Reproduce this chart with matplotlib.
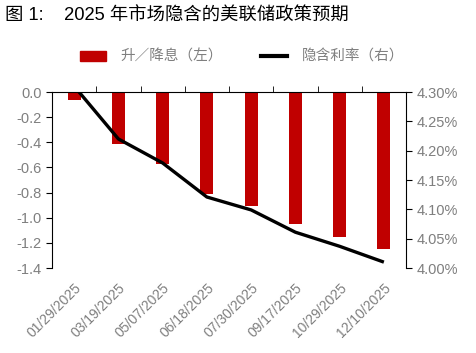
import numpy as np
import matplotlib
matplotlib.use('Agg')
import matplotlib.pyplot as plt
from matplotlib.patches import Patch
from matplotlib.lines import Line2D

plt.rcParams['font.family'] = ['Liberation Sans', 'Noto Sans CJK SC', 'DejaVu Sans']

dates = ['01/29/2025', '03/19/2025', '05/07/2025', '06/18/2025',
         '07/30/2025', '09/17/2025', '10/29/2025', '12/10/2025']
moves = [-0.06, -0.41, -0.57, -0.81, -0.91, -1.05, -1.15, -1.25]   # 升/降息 (left)
rate = [4.31, 4.22, 4.179, 4.121, 4.099, 4.061, 4.037, 4.01]      # 隐含利率 % (right)

grey = '#7f7f7f'
red = '#c00000'

fig = plt.figure(figsize=(4.76, 3.53), dpi=100)
ax = fig.add_axes([52/476, 1-268/353, 354/476, 176/353])
x = np.arange(len(dates))
ax.bar(x, moves, width=0.29, color=red, zorder=2)
ax.set_xlim(-0.5, len(dates)-0.5)
ax.set_ylim(-1.4, 0)
ax.set_yticks(np.arange(-1.4, 0.01, 0.2))
ax.set_yticklabels(['%.1f' % v if abs(v) > 1e-9 else '0.0' for v in np.arange(-1.4, 0.01, 0.2)])
ax.spines['bottom'].set_visible(False)
ax.spines['right'].set_visible(False)
ax.set_xticks(x)
ax.set_xticklabels(dates, rotation=45, ha='right', rotation_mode='anchor')
ax.set_xticks(x[:-1] + 0.5, minor=True)
ax.tick_params(axis='x', which='major', length=0, labelsize=10, colors=grey, pad=9)
ax.tick_params(axis='x', which='minor', bottom=False, top=True, direction='out', length=4)
ax.tick_params(axis='y', labelsize=10.5, labelcolor=grey, direction='out', length=4)

ax2 = ax.twinx()
ax2.plot(x, rate, color='black', lw=2.4, zorder=3, solid_capstyle='butt')
ax2.set_ylim(4.0, 4.3)
ax2.set_yticks(np.arange(4.0, 4.301, 0.05))
ax2.set_yticklabels(['%.2f%%' % v for v in np.arange(4.0, 4.301, 0.05)])
ax2.tick_params(axis='y', labelsize=10.5, labelcolor=grey, direction='out', length=4)
for s in ['top', 'bottom', 'left']:
    ax2.spines[s].set_visible(False)

fig.text(5/476, 1-16/353, '图 1:    2025 年市场隐含的美联储政策预期', fontsize=13.2,
         va='center', ha='left', color='black')

handles = [Patch(color=red), Line2D([0], [0], color='black', lw=3)]
fig.legend(handles, ['升／降息（左）', '隐含利率（右）'], loc='center',
           bbox_to_anchor=(242/476, 1-57/353), ncol=2, frameon=False,
           fontsize=10.5, labelcolor=grey, handlelength=1.8, handleheight=0.6,
           columnspacing=2.6, handletextpad=1.0)

fig.savefig('out.png', dpi=100)
